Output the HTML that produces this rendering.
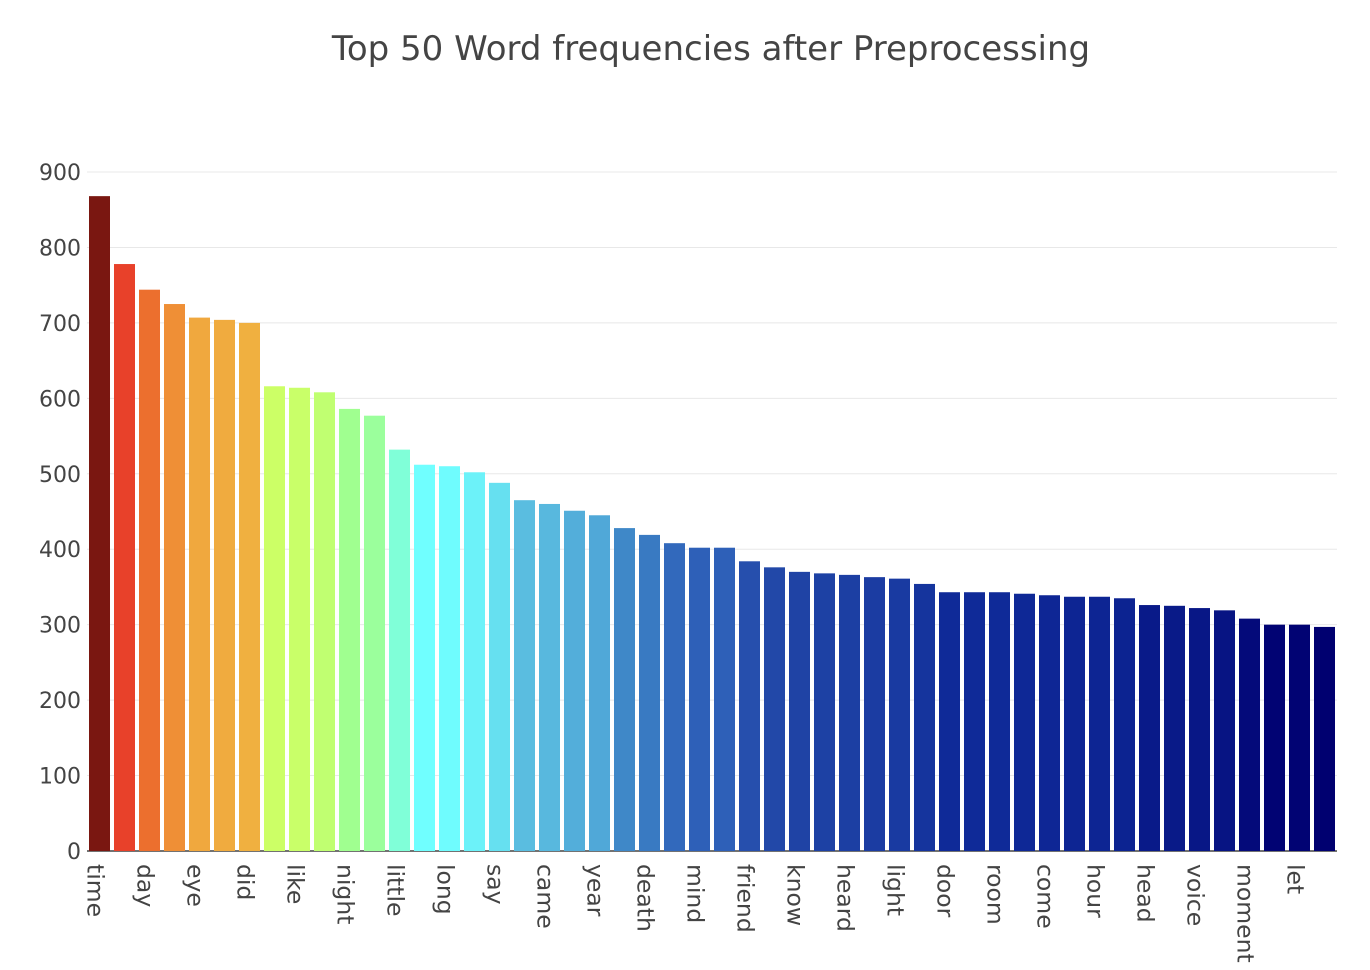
<!DOCTYPE html>
<html><head><meta charset="utf-8">
<style>
html,body{margin:0;padding:0;background:#fff;}
svg{display:block;font-family:"DejaVu Sans","Liberation Sans",sans-serif;}
</style></head>
<body>
<svg id="chart" width="1370" height="970" viewBox="0 0 1370 970">
<text x="711" y="60" text-anchor="middle" font-size="34" fill="#444">Top 50 Word frequencies after Preprocessing</text>
<g id="grid"></g><g id="bars"></g><g id="xlabels"></g><g id="ylabels"></g>
</svg>
<script>
const categories = ["time","man","day","thing","eye","old","did","great","like","life","night","made","little","thought","long","way","say","shall","came","men","year","said","death","good","mind","place","friend","hand","know","far","heard","saw","light","word","door","house","room","world","come","seen","hour","new","head","face","voice","love","moment","end","let","left"];
const values = [868,778,744,725,707,704,700,616,614,608,586,577,532,512,510,502,488,465,460,451,445,428,419,408,402,402,384,376,370,368,366,363,361,354,343,343,343,341,339,337,337,335,326,325,322,319,308,300,300,297];
const yTicks = [0,100,200,300,400,500,600,700,800,900];

const NS="http://www.w3.org/2000/svg";
const x0=87,x1=1337,y0=851,yTop=172,yMax=900;
const bw=(x1-x0)/categories.length;
const yS=v=>y0-(v/yMax)*(y0-yTop);
const stops=[[297,[0,0,112]],[343,[15,42,152]],[376,[34,72,168]],[402,[46,96,184]],[428,[63,136,200]],[445,[80,168,216]],[465,[90,189,224]],[488,[102,224,240]],[512,[112,255,255]],[532,[128,255,216]],[586,[160,255,144]],[616,[204,255,102]],[700,[240,176,64]],[707,[240,168,62]],[725,[239,143,54]],[744,[236,111,46]],[778,[232,65,42]],[868,[122,23,17]]];
function col(v){
 if(v<=stops[0][0])return `rgb(${stops[0][1]})`;
 for(let i=1;i<stops.length;i++){if(v<=stops[i][0]){const a=stops[i-1],b=stops[i],t=(v-a[0])/(b[0]-a[0]);
 return 'rgb('+a[1].map((c,k)=>Math.round(c+(b[1][k]-c)*t)).join(',')+')';}}
 return `rgb(${stops[stops.length-1][1]})`;
}
const grid=document.getElementById('grid'),ylab=document.getElementById('ylabels');
yTicks.forEach(t=>{
 const l=document.createElementNS(NS,'line');
 
 
 l.setAttribute('x1',x0);l.setAttribute('x2',x1);l.setAttribute('y1',yS(t));l.setAttribute('y2',yS(t));
 l.setAttribute('stroke',t===0?'#444':'#e8e8e8');l.setAttribute('stroke-width',t===0?1.5:1);
 grid.appendChild(l);
 const tx=document.createElementNS(NS,'text');
 
 
 tx.setAttribute('x',81);tx.setAttribute('y',yS(t)+8);tx.setAttribute('text-anchor','end');
 tx.setAttribute('font-size','22');tx.setAttribute('fill','#444');tx.textContent=t;
 ylab.appendChild(tx);
});
const bars=document.getElementById('bars'),xl=document.getElementById('xlabels');
categories.forEach((c,i)=>{
 const v=values[i],cx=x0+bw*(i+0.5);
 const r=document.createElementNS(NS,'rect');
 
 
 r.setAttribute('x',cx-bw*0.42);r.setAttribute('width',bw*0.84);
 r.setAttribute('y',yS(v));r.setAttribute('height',y0-yS(v));r.setAttribute('fill',col(v));
 bars.appendChild(r);
 if(i%2===0){
  const t=document.createElementNS(NS,'text');
  
  
  t.setAttribute('transform',`translate(${cx-12},864) rotate(90)`);
  t.setAttribute('font-size','23.5');t.setAttribute('fill','#444');t.textContent=c;
  xl.appendChild(t);
 }
});
</script>
</body></html>
